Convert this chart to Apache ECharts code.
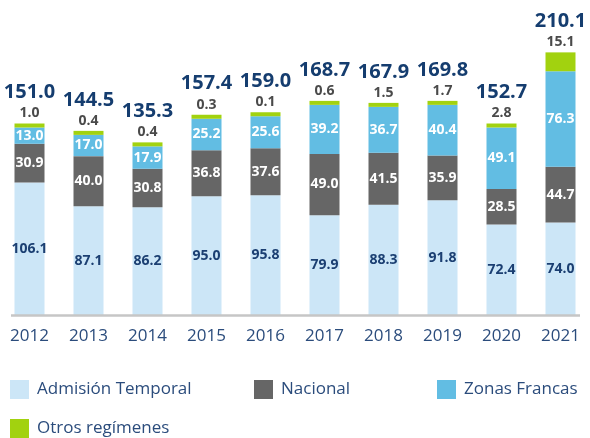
<!DOCTYPE html>
<html><head><meta charset="utf-8">
<script src="https://cdn.jsdelivr.net/npm/echarts@6/dist/echarts.min.js"></script>
<style>html,body{margin:0;padding:0;background:#fff}#c{width:590px;height:438px}</style>
</head><body><div id="c"></div>
<script>
const years = ['2012','2013','2014','2015','2016','2017','2018','2019','2020','2021'];
const admision = [106.1, 87.1, 86.2, 95.0, 95.8, 79.9, 88.3, 91.8, 72.4, 74.0];
const nacional = [30.9, 40.0, 30.8, 36.8, 37.6, 49.0, 41.5, 35.9, 28.5, 44.7];
const zonas = [13.0, 17.0, 17.9, 25.2, 25.6, 39.2, 36.7, 40.4, 49.1, 76.3];
const otros = [1.0, 0.4, 0.4, 0.3, 0.1, 0.6, 1.5, 1.7, 2.8, 15.1];
const totals = [151.0, 144.5, 135.3, 157.4, 159.0, 168.7, 167.9, 169.8, 152.7, 210.1];
const names = ['Admisión Temporal','Nacional','Zonas Francas','Otros regímenes'];

const FONT = '"Open Sans", "DejaVu Sans", sans-serif';
const colors = ['#cce6f7','#666666','#62bde3','#a2d20f'];
const fmt = v => Number(v).toFixed(1);
const chart = echarts.init(document.getElementById('c'), null, {renderer:'canvas'});

function legendFor(name, left, top){
  return {data:[name], left:left, top:top, padding:0, itemWidth:19, itemHeight:19, itemGap:0,
    icon:'rect', selectedMode:false,
    textStyle:{fontFamily:FONT, fontSize:17, color:'#2b4c7c', padding:[0,0,0,3]}};
}

chart.setOption({
  animation:false,
  color: colors,
  grid:{left:-2, width:598, top:10, bottom:123, containLabel:false},
  legend:[legendFor(names[0], 10, 380), legendFor(names[1], 254, 380),
          legendFor(names[2], 437, 380), legendFor(names[3], 10, 419)],
  xAxis:{type:'category', data:years, boundaryGap:true,
    axisLine:{show:false}, axisTick:{show:false},
    axisLabel:{fontFamily:FONT, fontSize:17, color:'#2b4c7c', margin:13}},
  yAxis:{type:'value', min:0, max:244, show:false, splitLine:{show:false}},
  graphic:[{type:'line', shape:{x1:11, y1:315.5, x2:580, y2:315.5},
    style:{stroke:'#c6c6c6', lineWidth:2.5}, z:10}],
  series:[
    {name:names[0], type:'bar', stack:'t', data:admision, barWidth:30,
      label:{show:true, position:'inside', fontFamily:FONT, fontWeight:'bold', fontSize:14,
        color:'#1b3f72', formatter:p=>fmt(p.value)}},
    {name:names[1], type:'bar', stack:'t', data:nacional, barWidth:30,
      label:{show:true, position:'inside', fontFamily:FONT, fontWeight:'bold', fontSize:14,
        color:'#ffffff', formatter:p=>fmt(p.value)}},
    {name:names[2], type:'bar', stack:'t', data:zonas, barWidth:30,
      label:{show:true, position:'inside', fontFamily:FONT, fontWeight:'bold', fontSize:14,
        color:'#ffffff', formatter:p=>fmt(p.value)}},
    {name:names[3], type:'bar', stack:'t', data:otros, barWidth:30, barMinHeight:4,
      label:{show:true, position:'top', distance:2, fontFamily:FONT,
        formatter:p=>'{t|'+fmt(totals[p.dataIndex])+'}\n{o|'+fmt(p.value)+'}',
        rich:{t:{fontFamily:FONT, fontWeight:'bold', fontSize:20, color:'#153d6f', lineHeight:26},
              o:{fontFamily:FONT, fontWeight:'bold', fontSize:14, color:'#4a4a4a', lineHeight:16}}}}
  ]
});
</script></body></html>
